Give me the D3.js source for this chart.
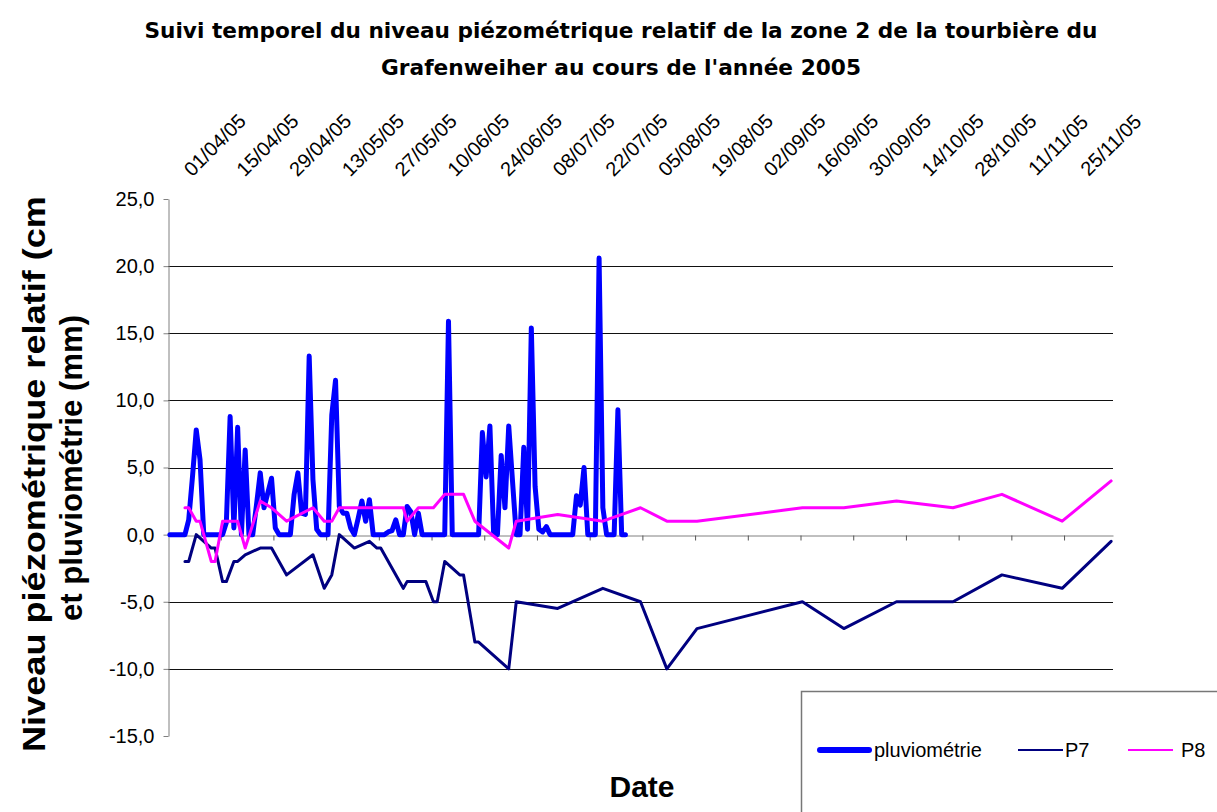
<!DOCTYPE html>
<html>
<head>
<meta charset="utf-8">
<script src="https://cdn.jsdelivr.net/npm/d3@7"></script>
<style>
  body { margin: 0; background: #fff; }
  svg { display: block; }
</style>
</head>
<body>
<div id="chart"></div>
<script>
// daily rainfall (mm), one value per day starting at pluvioStart
const pluvioStart = "18/03/05";
const pluvioValues = [
  0, 0, 0, 0, 0, 1.1, 4.3, 7.8, 5.6, 0,
  0, 0, 0, 0, 0, 0.9, 8.8, 0.5, 8.0, 0,
  6.3, 0, 0, 2.2, 4.6, 2.0, 3.1, 4.2, 0.5, 0,
  0, 0, 0, 3.0, 4.6, 1.6, 1.5, 13.3, 4.1, 0.4,
  0, 0, 0, 8.9, 11.5, 2.1, 1.6, 1.6, 0.5, 0,
  1.2, 2.5, 1.0, 2.6, 0, 0, 0, 0, 0.2, 0.3,
  1.1, 0, 0, 2.1, 1.7, 0, 1.6, 0, 0, 0,
  0, 0, 0, 0, 15.9, 0, 0, 0, 0, 0,
  0, 0, 0, 7.6, 4.3, 8.1, 0, 0, 5.9, 2.0,
  8.1, 4.0, 0, 0, 6.5, 0.4, 15.4, 3.6, 0.4, 0.2,
  0.6, 0, 0, 0, 0, 0, 0, 0, 2.9, 2.2,
  5.0, 0, 0, 0, 20.6, 2.0, 0, 0, 0, 9.3,
  0, 0
];

// piezometer P7 (cm)
const p7Dates = [
  "22/03/05", "23/03/05", "25/03/05", "29/03/05", "30/03/05", "01/04/05", "02/04/05",
  "04/04/05", "05/04/05", "07/04/05", "11/04/05", "14/04/05", "18/04/05", "25/04/05",
  "28/04/05", "30/04/05", "02/05/05", "06/05/05", "10/05/05", "12/05/05", "13/05/05",
  "19/05/05", "20/05/05", "25/05/05", "27/05/05", "28/05/05", "30/05/05", "03/06/05",
  "04/06/05", "07/06/05", "08/06/05", "16/06/05", "18/06/05", "29/06/05", "11/07/05",
  "21/07/05", "28/07/05", "05/08/05", "02/09/05", "13/09/05", "27/09/05", "12/10/05",
  "25/10/05", "10/11/05", "23/11/05"
];
const p7Values = [
  -2.0, -2.0, 0.0, -1.0, -1.0, -3.5, -3.5,
  -2.0, -2.0, -1.5, -1.0, -1.0, -3.0, -1.5,
  -4.0, -3.0, 0.0, -1.0, -0.5, -1.0, -1.0,
  -4.0, -3.5, -3.5, -5.0, -5.0, -2.0, -3.0,
  -3.0, -8.0, -8.0, -10.0, -5.0, -5.5, -4.0,
  -5.0, -10.0, -7.0, -5.0, -7.0, -5.0, -5.0,
  -3.0, -4.0, -0.5
];

// piezometer P8 (cm)
const p8Dates = [
  "22/03/05", "23/03/05", "25/03/05", "26/03/05", "29/03/05", "30/03/05", "01/04/05",
  "05/04/05", "07/04/05", "11/04/05", "14/04/05", "18/04/05", "25/04/05", "28/04/05",
  "30/04/05", "02/05/05", "19/05/05", "20/05/05", "23/05/05", "27/05/05", "30/05/05",
  "04/06/05", "07/06/05", "16/06/05", "18/06/05", "29/06/05", "11/07/05", "21/07/05",
  "28/07/05", "05/08/05", "02/09/05", "13/09/05", "27/09/05", "12/10/05", "25/10/05",
  "10/11/05", "23/11/05"
];
const p8Values = [
  2.0, 2.0, 1.0, 1.0, -2.0, -2.0, 1.0,
  1.0, -1.0, 2.5, 2.0, 1.0, 2.0, 1.0,
  1.0, 2.0, 2.0, 1.0, 2.0, 2.0, 3.0,
  3.0, 1.0, -1.0, 1.0, 1.5, 1.0, 2.0,
  1.0, 1.0, 2.0, 2.0, 2.5, 2.0, 3.0,
  1.0, 4.0
];

const tickLabels = [
  "01/04/05", "15/04/05", "29/04/05", "13/05/05", "27/05/05", "10/06/05",
  "24/06/05", "08/07/05", "22/07/05", "05/08/05", "19/08/05", "02/09/05",
  "16/09/05", "30/09/05", "14/10/05", "28/10/05", "11/11/05", "25/11/05"
];
const axisStart = "18/03/05";
const axisEnd = "24/11/05";
const yTicks = [-15, -10, -5, 0, 5, 10, 15, 20, 25];
const gridValues = [-10, -5, 5, 10, 15, 20];
const seriesNames = ["pluviométrie", "P7", "P8"];

const width = 1217, height = 812;
const plot = { left: 168, right: 1113, top: 199, bottom: 736 };

const parseDate = d3.utcParse("%d/%m/%y");
const midDay = (d) => d3.utcHour.offset(d, 12);
const frLocale = d3.formatLocale({ decimal: ",", thousands: " ", grouping: [3], currency: ["", " €"], minus: "-" });
const fmt = frLocale.format(".1f");

const pluvio = pluvioValues.map((v, i) => ({ date: midDay(d3.utcDay.offset(parseDate(pluvioStart), i)), value: v }));
const p7 = p7Dates.map((d, i) => ({ date: midDay(parseDate(d)), value: p7Values[i] }));
const p8 = p8Dates.map((d, i) => ({ date: midDay(parseDate(d)), value: p8Values[i] }));

const series = [
  { name: seriesNames[0], data: pluvio, color: "#0000ff", width: 5 },
  { name: seriesNames[1], data: p7, color: "#000080", width: 3 },
  { name: seriesNames[2], data: p8, color: "#ff00ff", width: 3 },
];

const svg = d3.select("#chart")
  .append("svg")
  .attr("width", width)
  .attr("height", height)
  .style("font-family", "'Liberation Sans', Arial, sans-serif");

const x = d3.scaleUtc()
  .domain([parseDate(axisStart), parseDate(axisEnd)])
  .range([plot.left, plot.right]);

const y = d3.scaleLinear()
  .domain([-15, 25])
  .range([plot.bottom, plot.top]);

// Title (two lines)
const titleLines = [
  { text: "Suivi temporel du niveau piézométrique relatif de la zone 2 de la tourbière du", y: 38, len: 953 },
  { text: "Grafenweiher au cours de l'année 2005", y: 75, len: 480 },
];
svg.selectAll("text.title")
  .data(titleLines)
  .enter()
  .append("text")
  .attr("class", "title")
  .attr("x", 621)
  .attr("y", (d) => d.y)
  .attr("text-anchor", "middle")
  .attr("font-family", "'Comic Sans MS', 'DejaVu Sans', sans-serif")
  .attr("font-weight", "bold")
  .attr("font-size", "21px")
  .attr("textLength", (d) => d.len)
  .attr("lengthAdjust", "spacingAndGlyphs")
  .text((d) => d.text);

// Horizontal gridlines
svg.append("g")
  .selectAll("line")
  .data(gridValues)
  .enter()
  .append("line")
  .attr("x1", plot.left)
  .attr("x2", plot.right)
  .attr("y1", (d) => Math.round(y(d)) + 0.5)
  .attr("y2", (d) => Math.round(y(d)) + 0.5)
  .attr("stroke", "#111")
  .attr("stroke-width", 1);

// Y axis
const yAxis = svg.append("g")
  .attr("transform", `translate(${plot.left + 0.5},0)`)
  .call(
    d3.axisLeft(y)
      .tickValues(yTicks)
      .tickSize(5)
      .tickSizeOuter(0)
      .tickPadding(9)
      .tickFormat((d) => fmt(d))
  );
yAxis.select(".domain").attr("stroke", "#808080");
yAxis.selectAll(".tick line").attr("stroke", "#808080");
yAxis.selectAll(".tick text")
  .attr("font-size", "20px")
  .attr("font-family", "'Liberation Sans', Arial, sans-serif")
  .attr("fill", "#000");

// X axis tick marks on the zero line
const tickDates = tickLabels.map(parseDate);
const xAxis = svg.append("g")
  .attr("transform", `translate(0,${Math.round(y(0)) + 0.5})`)
  .call(
    d3.axisBottom(x)
      .tickValues(tickDates.filter((d) => d <= x.domain()[1]))
      .tickSize(5)
      .tickSizeOuter(0)
      .tickFormat("")
  );
xAxis.select(".domain").attr("stroke", "#808080");
xAxis.selectAll(".tick line").attr("stroke", "#555");

// X labels at the top, rotated
const xLabels = svg.append("g")
  .call(
    d3.axisTop(x)
      .tickValues(tickDates)
      .tickSize(0)
      .tickFormat((d, i) => tickLabels[i])
  );
xLabels.select(".domain").remove();
xLabels.selectAll(".tick text")
  .attr("x", 0)
  .attr("y", 0)
  .attr("dy", "0.35em")
  .attr("text-anchor", "middle")
  .attr("transform", "translate(-6.5,145) rotate(-45)")
  .attr("font-size", "20px")
  .attr("font-family", "'Liberation Sans', Arial, sans-serif")
  .attr("fill", "#000");

// Series lines
const line = d3.line()
  .x((d) => x(d.date))
  .y((d) => y(d.value));

svg.append("g")
  .selectAll("path")
  .data(series)
  .enter()
  .append("path")
  .attr("d", (d) => line(d.data))
  .attr("fill", "none")
  .attr("stroke", (d) => d.color)
  .attr("stroke-width", (d) => d.width)
  .attr("stroke-linejoin", "round")
  .attr("stroke-linecap", "round");

// Y axis title (clipped at the top like the original)
svg.append("clipPath")
  .attr("id", "ytitle-clip")
  .append("rect")
  .attr("x", 0)
  .attr("y", 197)
  .attr("width", 120)
  .attr("height", 600);

const yTitle = svg.append("g").attr("clip-path", "url(#ytitle-clip)");
const yTitleLines = [
  { text: "Niveau piézométrique relatif (cm)", x: 45, len: 568 },
  { text: "et pluviométrie (mm)", x: 82, len: 306 },
];
yTitle.selectAll("text")
  .data(yTitleLines)
  .enter()
  .append("text")
  .attr("transform", (d) => `translate(${d.x},468) rotate(-90)`)
  .attr("text-anchor", "middle")
  .attr("font-weight", "bold")
  .attr("font-size", "31px")
  .attr("textLength", (d) => d.len)
  .attr("lengthAdjust", "spacingAndGlyphs")
  .text((d) => d.text);

// X axis title
svg.append("text")
  .attr("x", 642)
  .attr("y", 797)
  .attr("text-anchor", "middle")
  .attr("font-weight", "bold")
  .attr("font-size", "30px")
  .text("Date");

// Legend
svg.append("rect")
  .attr("x", 801.5)
  .attr("y", 691.5)
  .attr("width", 440)
  .attr("height", 140)
  .attr("fill", "#fff")
  .attr("stroke", "#777")
  .attr("stroke-width", 1.5);

const legendX = [820, 1018, 1128];
const legendLen = [49, 45, 45];
const legend = svg.append("g")
  .selectAll("g")
  .data(series)
  .enter()
  .append("g")
  .attr("transform", (d, i) => `translate(${legendX[i]},750)`);

legend.append("line")
  .attr("x1", 0)
  .attr("x2", (d, i) => legendLen[i])
  .attr("stroke", (d) => d.color)
  .attr("stroke-width", (d) => (d.width === 5 ? 6 : 2))
  .attr("stroke-linecap", (d) => (d.width === 5 ? "round" : "butt"));

legend.append("text")
  .attr("x", (d, i) => legendLen[i] + (i === 0 ? 5 : i === 1 ? 2 : 8))
  .attr("dy", "0.35em")
  .attr("font-size", "20px")
  .text((d) => d.name);
</script>
</body>
</html>
